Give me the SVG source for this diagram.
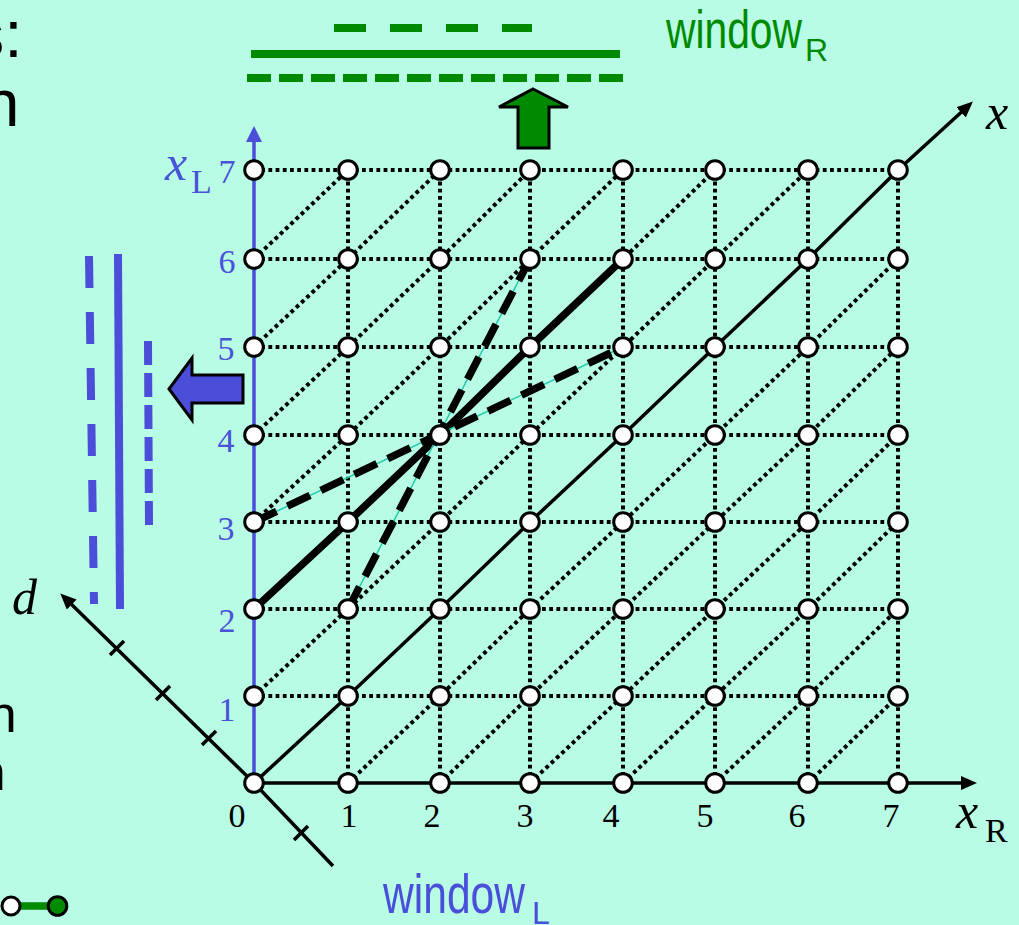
<svg xmlns="http://www.w3.org/2000/svg" width="1019" height="925" viewBox="0 0 1019 925">
<defs>
<style>
.dot{fill:none;stroke:#000;stroke-width:4;stroke-dasharray:3.8 3.4}
.ax{fill:none;stroke:#000;stroke-width:3.5}
.node{fill:#fff;stroke:#000;stroke-width:3}
.num{font-family:"Liberation Serif","Times New Roman",serif;font-size:34px;text-anchor:middle}
.blue{fill:#4a52d8}
.it{font-family:"Liberation Serif","Times New Roman",serif;font-style:italic;font-size:50px}
.sub{font-family:"Liberation Serif","Times New Roman",serif;font-size:34px}
.sans{font-family:"Liberation Sans",Arial,sans-serif}
.thin{fill:none;stroke:#22ccaa;stroke-width:1.5}
.dash{fill:none;stroke:#000;stroke-width:7.5;stroke-dasharray:25 12}
.gl{stroke:#008a00;stroke-width:8;fill:none}
.bl{stroke:#4a4ed8;stroke-width:8;fill:none}
</style>
<marker id="ah" markerUnits="userSpaceOnUse" markerWidth="16" markerHeight="14" refX="8" refY="7" orient="auto" viewBox="0 0 16 14"><path d="M0,0 L16,7 L0,14 z" fill="#000"/></marker>
<marker id="ahb" markerUnits="userSpaceOnUse" markerWidth="16" markerHeight="16" refX="8" refY="8" orient="auto" viewBox="0 0 16 16"><path d="M0,0 L16,8 L0,16 z" fill="#4a4ed8"/></marker>
<circle id="nd" r="9.3" class="node"/>
</defs>
<rect width="1019" height="925" fill="#b8fce6"/>

<!-- partial slide text -->
<g id="slide-text" class="sans" fill="#000">
<text x="22.5" y="57" font-size="66" text-anchor="end">s:</text>
<text x="19.5" y="126" font-size="66" text-anchor="end">n</text>
<text x="16.6" y="732" font-size="52" text-anchor="end">n</text>
<text x="5.6" y="790" font-size="52" text-anchor="end">n</text>
</g>

<!-- window R -->
<g id="windowR">
<line class="gl" x1="334" y1="28" x2="532" y2="28" stroke-dasharray="32 24"/>
<line class="gl" x1="251" y1="54" x2="620" y2="54"/>
<line class="gl" x1="247" y1="78" x2="623" y2="78" stroke-dasharray="24 8"/>
<polygon points="533,89 568,107 549,107 549,148 518,148 518,107 499,107" fill="#008a00" stroke="#000" stroke-width="3" stroke-linejoin="miter"/>
<text class="sans" x="666" y="48" font-size="53" fill="#008a00" textLength="136" lengthAdjust="spacingAndGlyphs">window</text>
<text class="sans" x="805" y="61" font-size="32" fill="#008a00">R</text>
</g>

<!-- window L -->
<g id="windowL">
<line class="bl" x1="89" y1="256" x2="94" y2="604" stroke-dasharray="32 24" stroke-width="7.5"/>
<line class="bl" x1="118" y1="254" x2="120" y2="609"/>
<line class="bl" x1="148" y1="341" x2="149" y2="525" stroke-dasharray="24 8"/>
<polygon points="169,389 192,358 192,375 243,375 243,403 192,403 192,420" fill="#4a4ed8" stroke="#000" stroke-width="3"/>
<text class="sans" x="383" y="913" font-size="55" fill="#4a4ed8" textLength="142" lengthAdjust="spacingAndGlyphs">window</text>
<text class="sans" x="532" y="924" font-size="32" fill="#4a4ed8">L</text>
</g>

<!-- connectors -->
<g id="connectors">
<line class="dot" x1="254" y1="696" x2="898" y2="696"/>
<line class="dot" x1="254" y1="609" x2="898" y2="609"/>
<line class="dot" x1="254" y1="522" x2="898" y2="522"/>
<line class="dot" x1="254" y1="435" x2="898" y2="435"/>
<line class="dot" x1="254" y1="347" x2="898" y2="347"/>
<line class="dot" x1="254" y1="259" x2="898" y2="259"/>
<line class="dot" x1="254" y1="170" x2="898" y2="170"/>
<line class="dot" x1="348" y1="783" x2="348" y2="170"/>
<line class="dot" x1="440" y1="783" x2="440" y2="170"/>
<line class="dot" x1="530" y1="783" x2="530" y2="170"/>
<line class="dot" x1="623" y1="783" x2="623" y2="170"/>
<line class="dot" x1="715" y1="783" x2="715" y2="170"/>
<line class="dot" x1="808" y1="783" x2="808" y2="170"/>
<line class="dot" x1="898" y1="783" x2="898" y2="170"/>
<polyline class="dot" points="254,696 348,609 440,522 530,435 623,347 715,259 808,170"/>
<polyline class="dot" points="254,609 348,522 440,435 530,347 623,259 715,170"/>
<polyline class="dot" points="254,522 348,435 440,347 530,259 623,170"/>
<polyline class="dot" points="254,435 348,347 440,259 530,170"/>
<polyline class="dot" points="254,347 348,259 440,170"/>
<polyline class="dot" points="254,259 348,170"/>
<polyline class="dot" points="348,783 440,696 530,609 623,522 715,435 808,347 898,259"/>
<polyline class="dot" points="440,783 530,696 623,609 715,522 808,435 898,347"/>
<polyline class="dot" points="530,783 623,696 715,609 808,522 898,435"/>
<polyline class="dot" points="623,783 715,696 808,609 898,522"/>
<polyline class="dot" points="715,783 808,696 898,609"/>
<polyline class="dot" points="808,783 898,696"/>
<line x1="254" y1="783" x2="254" y2="134" stroke="#4a4ed8" stroke-width="3.5" marker-end="url(#ahb)"/>
<line class="ax" x1="254" y1="783" x2="969" y2="783" marker-end="url(#ah)"/>
<polyline class="ax" points="254,783 348,696 440,609 530,522 623,435 715,347 808,259 898,170 967,107" marker-end="url(#ah)"/>
<path class="ax" d="M333,866 L254,783 L66,599" marker-end="url(#ah)"/>
<line class="ax" x1="110" y1="655" x2="124" y2="641"/>
<line class="ax" x1="156" y1="700" x2="170" y2="686"/>
<line class="ax" x1="202" y1="745" x2="216" y2="731"/>
<line class="ax" x1="294" y1="840" x2="308" y2="826"/>
<polyline points="254,609 348,522 440,435 530,347 623,259" fill="none" stroke="#000" stroke-width="7.5"/>
<line class="thin" x1="254" y1="522" x2="623" y2="347"/>
<line class="thin" x1="348" y1="609" x2="530" y2="259"/>
<line class="dash" x1="254" y1="522" x2="623" y2="347"/>
<line class="dash" x1="348" y1="609" x2="530" y2="259"/>
</g>

<!-- nodes -->
<g id="nodes">
<g id="n00"><use href="#nd" x="254" y="783"/></g><g id="n10"><use href="#nd" x="348" y="783"/></g><g id="n20"><use href="#nd" x="440" y="783"/></g><g id="n30"><use href="#nd" x="530" y="783"/></g><g id="n40"><use href="#nd" x="623" y="783"/></g><g id="n50"><use href="#nd" x="715" y="783"/></g><g id="n60"><use href="#nd" x="808" y="783"/></g><g id="n70"><use href="#nd" x="898" y="783"/></g>
<g id="n01"><use href="#nd" x="254" y="696"/></g><g id="n11"><use href="#nd" x="348" y="696"/></g><g id="n21"><use href="#nd" x="440" y="696"/></g><g id="n31"><use href="#nd" x="530" y="696"/></g><g id="n41"><use href="#nd" x="623" y="696"/></g><g id="n51"><use href="#nd" x="715" y="696"/></g><g id="n61"><use href="#nd" x="808" y="696"/></g><g id="n71"><use href="#nd" x="898" y="696"/></g>
<g id="n02"><use href="#nd" x="254" y="609"/></g><g id="n12"><use href="#nd" x="348" y="609"/></g><g id="n22"><use href="#nd" x="440" y="609"/></g><g id="n32"><use href="#nd" x="530" y="609"/></g><g id="n42"><use href="#nd" x="623" y="609"/></g><g id="n52"><use href="#nd" x="715" y="609"/></g><g id="n62"><use href="#nd" x="808" y="609"/></g><g id="n72"><use href="#nd" x="898" y="609"/></g>
<g id="n03"><use href="#nd" x="254" y="522"/></g><g id="n13"><use href="#nd" x="348" y="522"/></g><g id="n23"><use href="#nd" x="440" y="522"/></g><g id="n33"><use href="#nd" x="530" y="522"/></g><g id="n43"><use href="#nd" x="623" y="522"/></g><g id="n53"><use href="#nd" x="715" y="522"/></g><g id="n63"><use href="#nd" x="808" y="522"/></g><g id="n73"><use href="#nd" x="898" y="522"/></g>
<g id="n04"><use href="#nd" x="254" y="435"/></g><g id="n14"><use href="#nd" x="348" y="435"/></g><g id="n24"><use href="#nd" x="440" y="435"/></g><g id="n34"><use href="#nd" x="530" y="435"/></g><g id="n44"><use href="#nd" x="623" y="435"/></g><g id="n54"><use href="#nd" x="715" y="435"/></g><g id="n64"><use href="#nd" x="808" y="435"/></g><g id="n74"><use href="#nd" x="898" y="435"/></g>
<g id="n05"><use href="#nd" x="254" y="347"/></g><g id="n15"><use href="#nd" x="348" y="347"/></g><g id="n25"><use href="#nd" x="440" y="347"/></g><g id="n35"><use href="#nd" x="530" y="347"/></g><g id="n45"><use href="#nd" x="623" y="347"/></g><g id="n55"><use href="#nd" x="715" y="347"/></g><g id="n65"><use href="#nd" x="808" y="347"/></g><g id="n75"><use href="#nd" x="898" y="347"/></g>
<g id="n06"><use href="#nd" x="254" y="259"/></g><g id="n16"><use href="#nd" x="348" y="259"/></g><g id="n26"><use href="#nd" x="440" y="259"/></g><g id="n36"><use href="#nd" x="530" y="259"/></g><g id="n46"><use href="#nd" x="623" y="259"/></g><g id="n56"><use href="#nd" x="715" y="259"/></g><g id="n66"><use href="#nd" x="808" y="259"/></g><g id="n76"><use href="#nd" x="898" y="259"/></g>
<g id="n07"><use href="#nd" x="254" y="170"/></g><g id="n17"><use href="#nd" x="348" y="170"/></g><g id="n27"><use href="#nd" x="440" y="170"/></g><g id="n37"><use href="#nd" x="530" y="170"/></g><g id="n47"><use href="#nd" x="623" y="170"/></g><g id="n57"><use href="#nd" x="715" y="170"/></g><g id="n67"><use href="#nd" x="808" y="170"/></g><g id="n77"><use href="#nd" x="898" y="170"/></g>
</g>

<!-- axis labels -->
<g id="xR-labels" class="num" fill="#000">
<text x="237" y="827">0</text><text x="349" y="827">1</text><text x="432" y="827">2</text><text x="525" y="827">3</text><text x="611" y="827">4</text><text x="705" y="827">5</text><text x="797" y="827">6</text><text x="891" y="827">7</text>
</g>
<g id="xL-labels" class="num blue">
<text x="227" y="721">1</text><text x="227" y="632">2</text><text x="226" y="540">3</text><text x="226" y="452">4</text><text x="226" y="360">5</text><text x="227" y="273">6</text><text x="227" y="183">7</text>
</g>
<g id="axis-names">
<text class="it blue" x="165" y="180">x</text><text class="sub blue" x="191" y="193">L</text>
<text class="it" x="986" y="129">x</text>
<text class="it" x="956" y="828">x</text><text class="sub" x="985" y="842">R</text>
<text class="it" x="12" y="614">d</text>
</g>

<!-- legend icon -->
<g id="legend">
<line x1="19" y1="906" x2="49" y2="906" stroke="#008a00" stroke-width="7.5"/>
<circle cx="11" cy="906" r="9" class="node"/>
<circle cx="57.5" cy="906" r="9.3" fill="#008a00" stroke="#000" stroke-width="3"/>
</g>
</svg>
